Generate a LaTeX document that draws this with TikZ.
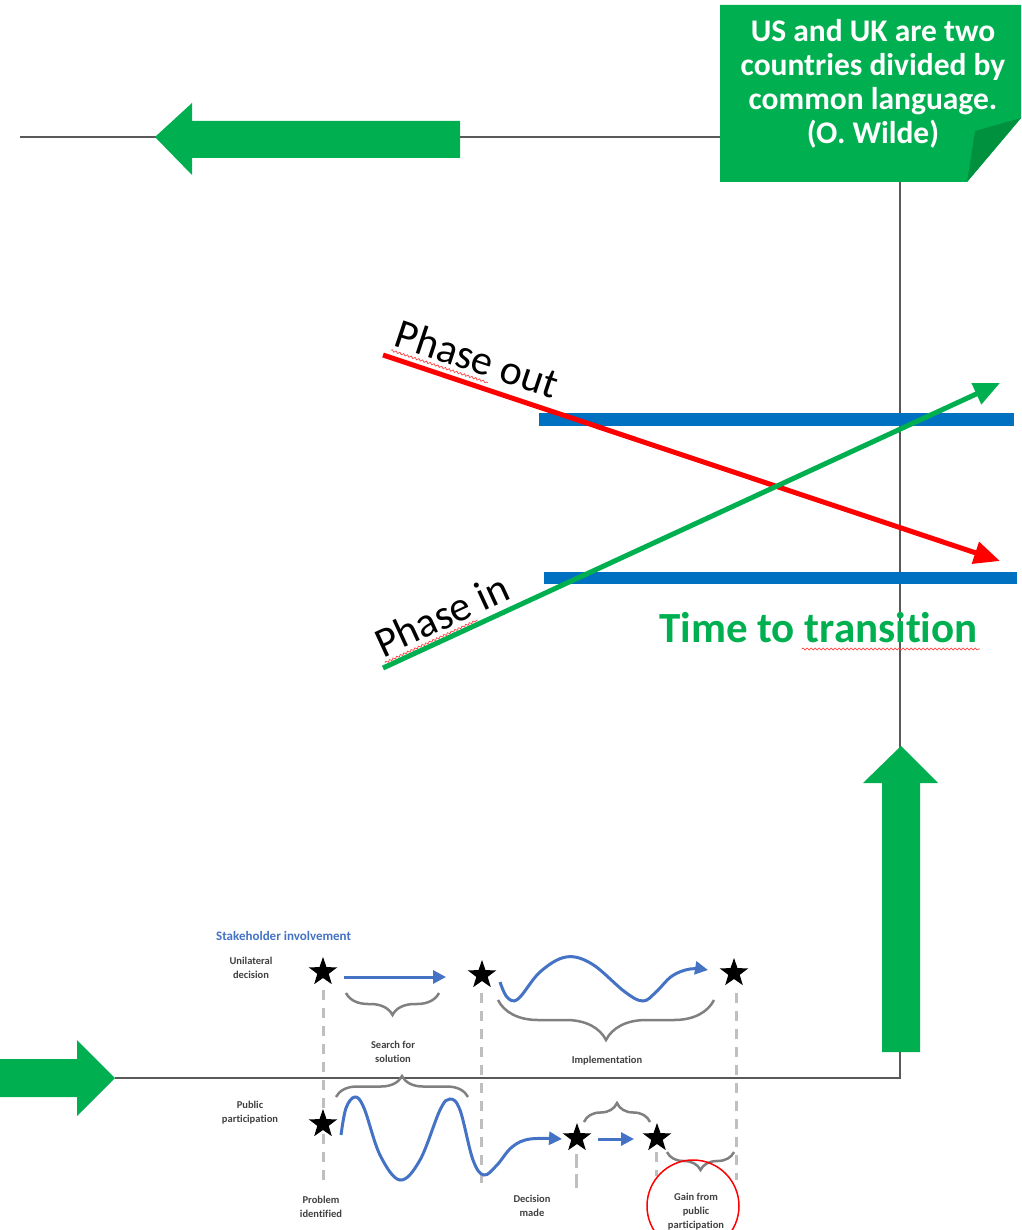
\documentclass[tikz,border=0pt]{standalone}
\usepackage{fontspec}
\setmainfont{Carlito}[Ligatures={TeX,NoCommon,NoContextual},Contextuals=NoAlternate]
\usetikzlibrary{arrows.meta,shapes.geometric,decorations.pathreplacing,decorations.pathmorphing,calc}
\definecolor{xgreen}{HTML}{00B050}
\definecolor{xdkgreen}{HTML}{00913F}
\definecolor{xblue}{HTML}{0070C0}
\definecolor{xred}{HTML}{FF0000}
\definecolor{xline}{HTML}{595959}
\definecolor{xwave}{HTML}{4472C4}
\definecolor{xbrace}{HTML}{808080}
\definecolor{xdash}{HTML}{BFBFBF}
\definecolor{xlabel}{HTML}{404040}
\begin{document}
\begin{tikzpicture}[x=1pt,y=-1pt,
  conn/.style={draw=xline, line width=1.3pt},
  blockarrow/.style={fill=xgreen},
  bar/.style={fill=xblue},
  trend/.style={line width=5pt, -{Triangle[length=26pt,width=22pt]}},
  squig/.style={draw=red!75, line width=0.7pt, decorate, decoration={snake, amplitude=1pt, segment length=4pt}},
  phase/.style={font=\fontsize{42}{48}\selectfont, text=black, inner sep=0pt},
  wave/.style={draw=xwave, line width=3pt, -{Triangle[length=13pt,width=13pt]}},
  starnode/.style={star, star points=5, star point ratio=2.5, fill=black, minimum size=30pt, inner sep=0pt},
  brc/.style={draw=xbrace, line width=2.5pt, decorate, decoration={brace, amplitude=#1}},
  guide/.style={draw=xdash, line width=3pt, dash pattern=on 10pt off 8pt},
  lbl/.style={font=\bfseries\fontsize{10.5}{14}\selectfont, text=xlabel, align=center, inner sep=0pt},
]
\useasboundingbox (0,0) rectangle (1021,1230);

% ---------- frame connectors ----------
\coordinate (lineL) at (20,137);
\coordinate (noteW) at (720,137);
\coordinate (noteS) at (900,182);
\coordinate (corner) at (900,1078);
\coordinate (arrowTip) at (115,1078);
\draw[conn] (lineL) -- (noteW);
\draw[conn] (noteS) -- (corner) -- (arrowTip);

% ---------- note box ----------
\fill[xgreen] (720,5) -- (1021,5) -- (1021,118) -- (967,182) -- (720,182) -- cycle;
\fill[xdkgreen] (967,182) -- (975,131) -- (1021,118) -- cycle;
\node[font=\bfseries\fontsize{31.5}{34}\selectfont, text=white, align=center, inner sep=0pt] (note) at (873,84)
  {US and UK are two\\countries divided by\\common language.\\(O. Wilde)};

% ---------- green block arrows ----------
\fill[blockarrow] (460,121) -- (192,121) -- (192,103) -- (155,137) -- (192,175) -- (192,158) -- (460,158) -- cycle;
\fill[blockarrow] (0,1059) -- (77,1059) -- (77,1040) -- (115,1078) -- (77,1116) -- (77,1097) -- (0,1097) -- cycle;

% ---------- blue bars ----------
\fill[bar] (539,413) rectangle (1014,426);
\fill[bar] (544,572) rectangle (1017,584);

% ---------- up arrow ----------
\fill[blockarrow] (882,1052) -- (882,783) -- (863,783) -- (901,746) -- (938,783) -- (920,783) -- (920,1052) -- cycle;

% ---------- trend arrows ----------
\coordinate (ro1) at (383,355);
\coordinate (ro2) at (1000,561);
\coordinate (gi1) at (383,668);
\coordinate (gi2) at (1000,383);
\draw[trend, xred] (ro1) -- (ro2);
\draw[trend, xgreen] (gi1) -- (gi2);

\begin{scope}[shift={(ro1)}, rotate=-18.45]
  \node[phase, anchor=base west, transform shape] (phaseout) at (6,-12) {Phase out};
  \draw[squig] (6,-7) -- (108,-7);
\end{scope}
\begin{scope}[shift={(gi1)}, rotate=24.8]
  \node[phase, anchor=base west, transform shape] (phasein) at (4,-9) {Phase in};
  \draw[squig] (4,-4) -- (106,-4);
\end{scope}

\node[font=\bfseries\fontsize{43}{48}\selectfont, text=xgreen, anchor=base west, inner sep=0pt] (ttt) at (659,642) {Time to transi\kern0pt tion};
\draw[squig] ($(ttt.base east)+(-176,7)$) -- ($(ttt.base east)+(2,7)$);

% ---------- inset: stakeholder involvement ----------
\node[font=\bfseries\fontsize{13}{16}\selectfont, text=xwave, anchor=base west, inner sep=0pt] (stake) at (216,940) {Stakeholder involvement};

% dashed guides
\coordinate (d1a) at (323,990);  \coordinate (d1b) at (323,1186);
\coordinate (d2a) at (481,993);  \coordinate (d2b) at (481,1186);
\coordinate (d3a) at (736,993);  \coordinate (d3b) at (736,1180);
\coordinate (d4a) at (576,1154); \coordinate (d4b) at (576,1193);
\coordinate (d5a) at (656,1152); \coordinate (d5b) at (656,1176);
\draw[guide] (d1a) -- (d1b);
\draw[guide] (d2a) -- (d2b);
\draw[guide] (d3a) -- (d3b);
\draw[guide, dash pattern=on 14pt off 6pt] (d4a) -- (d4b);
\draw[guide] (d5a) -- (d5b);

% stars
\node[starnode] (s1) at (323,972) {};
\node[starnode] (s2) at (482,975) {};
\node[starnode] (s3) at (734,973) {};
\node[starnode] (s4) at (323,1124) {};
\node[starnode] (s5) at (577,1138) {};
\node[starnode] (s6) at (657,1138) {};

% blue arrows
\coordinate (a1) at (344,977); \coordinate (a2) at (446,977);
\draw[wave] (a1) -- (a2);
\draw[wave] plot[smooth, tension=0.6] coordinates {(500,982) (507,997) (518,999) (540,972) (566,957) (592,964) (625,992) (643,1001) (656,992) (672,976) (690,969) (708,970)};
\draw[wave] plot[smooth, tension=0.6] coordinates {(341,1135) (346,1108) (355,1097) (364,1108) (380,1155) (400,1180) (420,1160) (440,1110) (450,1099) (460,1110) (473,1160) (484,1175) (497,1165) (512,1147) (530,1139) (562,1139)};
\coordinate (a3) at (598,1139); \coordinate (a4) at (634,1139);
\draw[wave] (a3) -- (a4);

% braces
\draw[brc=22] (439,993) -- (346,993);
\draw[brc=40] (714,1000) -- (498,1000);
\draw[brc=21] (336,1097) -- (468,1097);
\draw[brc=19] (584,1122) -- (650,1122);
\draw[brc=18] (734,1152) -- (667,1152);

% labels
\node[lbl] (uni) at (251,968) {Unilateral\\decision};
\node[lbl] (sfs) at (393,1052) {Search for\\solution};
\node[lbl] (impl) at (607,1061) {Implementa\kern0pt tion};
\node[lbl] (pub) at (250,1113) {Public\\participa\kern0pt tion};
\node[lbl] (prob) at (321,1207) {Problem\\identified};
\node[lbl] (dec) at (532,1206) {Decision\\made};
\node[lbl] (gain) at (696,1212) {Gain from\\public\\participa\kern0pt tion};

% red circle
\node[draw=xred, line width=1.5pt, circle, minimum size=92pt, inner sep=0pt] (ring) at (693,1206) {};
\end{tikzpicture}
\end{document}
